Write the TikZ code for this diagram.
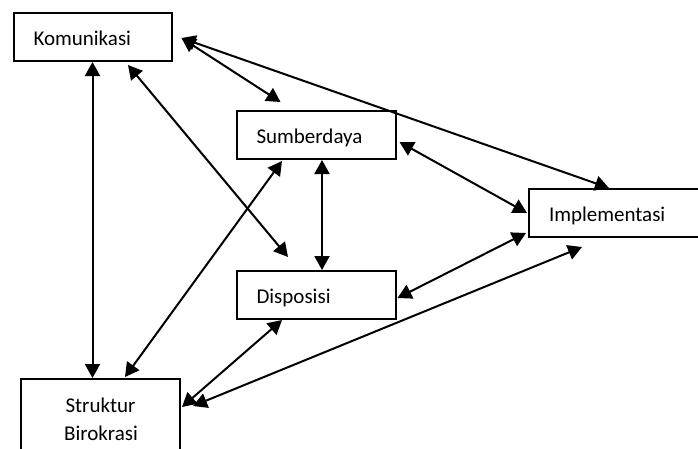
\documentclass[tikz,border=0pt]{standalone}
\usepackage{fontspec}
\setmainfont{Carlito}
\usetikzlibrary{arrows.meta}
\begin{document}
\begin{tikzpicture}[x=1pt,y=-1pt,
  font=\fontsize{21}{28}\selectfont,
  box/.style={draw, line width=2pt, fill=white, minimum height=48pt,
    text height=19pt, text depth=3pt, inner xsep=20pt, inner ysep=0pt,
    text width=#1, align=left},
  link/.style={line width=2pt,
    {Triangle[length=14pt,width=15pt]}-{Triangle[length=14pt,width=15pt]}}
]
\useasboundingbox (0,0) rectangle (698,448);
\clip (0,0) rectangle (698,448);

% boxes
\node[box=118pt] (kom) at (92.5,37) {Komunikasi};
\node[box=119pt] (sum) at (316,135) {Sumberdaya};
\node[box=119pt] (dis) at (316,295) {Disposisi};
\node[box=141pt] (imp) at (619.5,213) {Implementasi};
\node[draw, line width=2pt, fill=white, minimum width=159pt,
      minimum height=100pt, anchor=north] (str) at (100.5,378) {};
\node[anchor=base] (strA) at (100.5,412) {Struktur};
\node[anchor=base] (strB) at (101,440) {Birokrasi};

% relations
\draw[link] (kom.south) -- (kom.south |- str.north);
\draw[link] ([shift={(35.5,3)}]kom.south) -- ([shift={(-28,-13)}]dis.north);
\draw[link] ([shift={(9,1)}]kom.east) -- ([shift={(45,-8)}]sum.north west);
\draw[link] ([shift={(9,1)}]kom.east) -- ([shift={(81,0)}]imp.north west);
\draw[link] ([xshift=6]sum.south) -- ([xshift=6]dis.north);
\draw[link] ([shift={(3,7)}]sum.east) -- ([xshift=-1]imp.west);
\draw[link] ([shift={(-34,1)}]sum.south) -- ([shift={(24.5,-1)}]str.north);
\draw[link] ([shift={(1,3)}]dis.east) -- ([shift={(-2,-5)}]imp.south west);
\draw[link] ([xshift=-34]dis.south) -- ([shift={(1,29)}]str.north east);
\draw[link] ([shift={(54,9)}]imp.south west) -- ([shift={(12,28)}]str.north east);
\end{tikzpicture}
\end{document}
